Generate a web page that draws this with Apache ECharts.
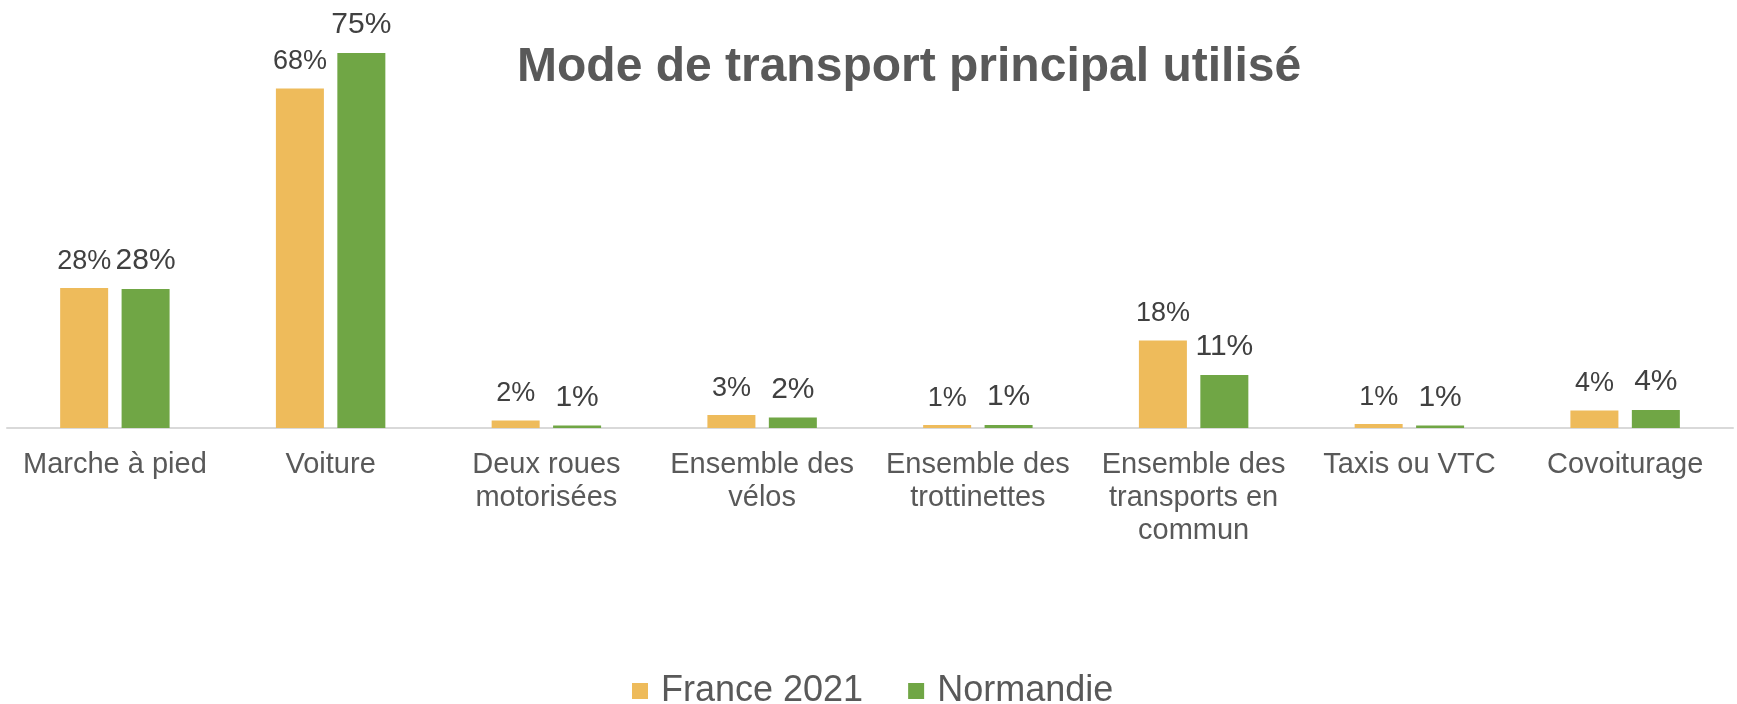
<!DOCTYPE html>
<html><head><meta charset="utf-8">
<script src="https://cdn.jsdelivr.net/npm/echarts@6/dist/echarts.min.js"></script>
<style>html,body{margin:0;padding:0;background:#fff}#c{width:1737px;height:704px}</style>
</head><body><div id="c"></div>
<script>
const categories = ['Marche à pied', 'Voiture', 'Deux roues\nmotorisées', 'Ensemble des\nvélos', 'Ensemble des\ntrottinettes', 'Ensemble des\ntransports en\ncommun', 'Taxis ou VTC', 'Covoiturage'];
const seriesNames = ['France 2021', 'Normandie'];
const france = [28.0, 67.9, 1.5, 2.6, 0.6, 17.5, 0.8, 3.5];
const normandie = [27.8, 75.0, 0.5, 2.1, 0.6, 10.6, 0.5, 3.6];
const titleText = 'Mode de transport principal utilisé';

const FONT = '"Liberation Sans", Arial, sans-serif';
const chart = echarts.init(document.getElementById('c'), null, {renderer: 'canvas'});
const pct = p => Math.round(p.value) + '%';
chart.setOption({
  animation: false,
  backgroundColor: '#ffffff',
  title: {
    text: titleText, left: 517, top: 44, padding: 0,
    textStyle: {fontSize: 48, fontWeight: 'bold', color: '#595959', fontFamily: FONT}
  },
  legend: {
    data: seriesNames, left: 632, top: 673, padding: 0,
    itemWidth: 16, itemHeight: 16, icon: 'rect', itemGap: 45,
    textStyle: {fontSize: 36, color: '#595959', fontFamily: FONT, padding: [0, 0, 0, 8]}
  },
  grid: {left: 7, right: 4, top: 28, bottom: 276, containLabel: false, outerBoundsMode: 'none'},
  xAxis: {
    type: 'category', data: categories,
    axisTick: {show: false},
    axisLine: {lineStyle: {color: '#d9d9d9', width: 2}},
    axisLabel: {interval: 0, fontSize: 29, color: '#595959', lineHeight: 33, margin: 20, fontFamily: FONT}
  },
  yAxis: {type: 'value', min: 0, max: 80, show: false, splitLine: {show: false}},
  series: [
    {
      name: seriesNames[0], type: 'bar', data: france, barWidth: 48, barGap: '28%',
      itemStyle: {color: '#EEBB5B'},
      label: {show: true, position: 'top', distance: 13, formatter: pct, fontSize: 27, color: '#404040', fontFamily: FONT}
    },
    {
      name: seriesNames[1], type: 'bar', data: normandie, barWidth: 48,
      itemStyle: {color: '#70A645'},
      label: {show: true, position: 'top', distance: 13, formatter: pct, fontSize: 30, color: '#404040', fontFamily: FONT}
    }
  ]
});
</script></body></html>
